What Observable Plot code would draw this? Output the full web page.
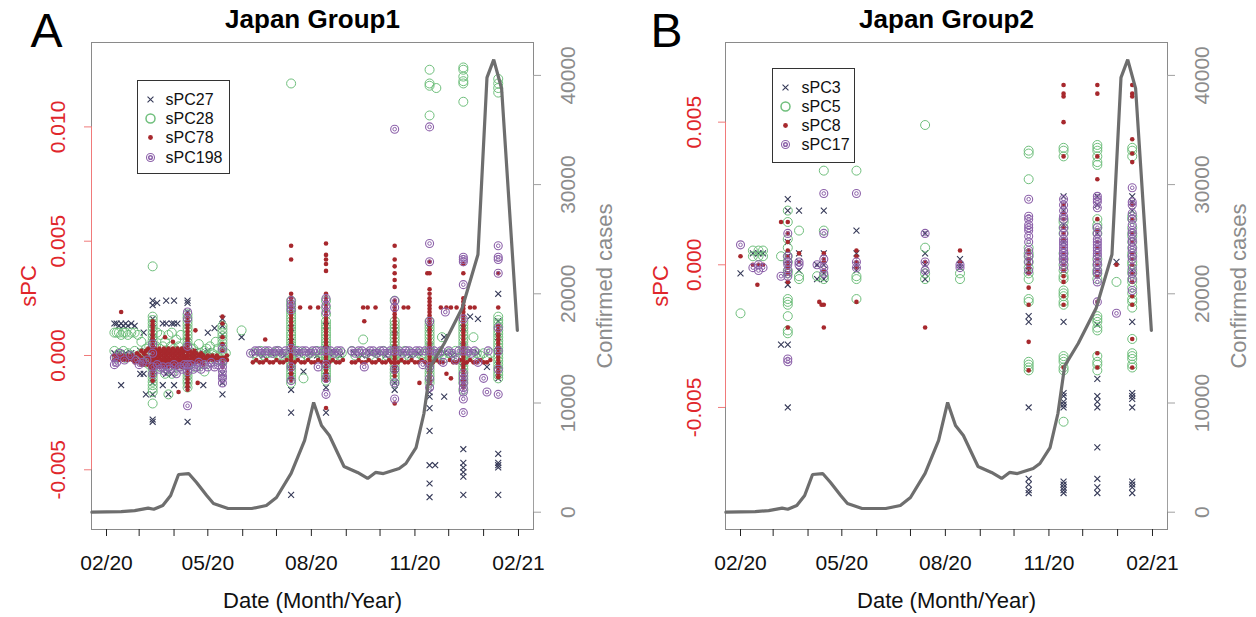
<!DOCTYPE html>
<html><head><meta charset="utf-8">
<script src="https://cdn.jsdelivr.net/npm/d3@7"></script>
<script src="https://cdn.jsdelivr.net/npm/@observablehq/plot@0.6"></script>
<style>
body{margin:0;background:#fff;font-family:"Liberation Sans",Arial,sans-serif}
#wrap{display:flex;width:1256px;height:617px;overflow:hidden}
</style></head><body><div id="wrap"></div>
<script>
// ---- Confirmed cases (weekly) ----
const caseDates = ["2020-01-19","2020-02-14","2020-02-26","2020-03-09","2020-03-14","2020-03-22","2020-03-29","2020-04-05","2020-04-14","2020-04-21","2020-04-30","2020-05-06","2020-05-19","2020-06-09","2020-06-22","2020-07-01","2020-07-14","2020-07-26","2020-08-03","2020-08-10","2020-08-17","2020-08-30","2020-09-11","2020-09-20","2020-09-27","2020-10-04","2020-10-18","2020-10-24","2020-11-02","2020-11-09","2020-11-15","2020-11-27","2020-12-13","2020-12-27","2021-01-04","2021-01-10","2021-01-17","2021-01-31"];
const caseCounts = [0,60,150,370,270,610,1530,3450,3540,2720,1530,800,340,340,610,1350,3550,6570,10050,7940,7020,4180,3640,3090,3640,3540,4000,4460,5920,9040,13400,15450,18700,23600,39800,41450,38800,16640];
const caseTicks = [0,10000,20000,30000,40000];

// ---- x axis ----
const monthTicks = ["2020-02-01","2020-03-01","2020-04-01","2020-05-01","2020-06-01","2020-07-01","2020-08-01","2020-09-01","2020-10-01","2020-11-01","2020-12-01","2021-01-01","2021-02-01"];
const labeledMonths = ["2020-02-01","2020-05-01","2020-08-01","2020-11-01","2021-02-01"];
const monthLabels = ["02/20","05/20","08/20","11/20","02/21"];

// ---- Group 1 (panel A): [date, values...] ----
const sPC27 = [["2020-02-08",0.0014,0.0001],["2020-02-10",0.0014,-0.0001],["2020-02-12",0.0013,0.0001],["2020-02-14",0.0014,-0.0013],["2020-02-16",0.0013,0.0],["2020-02-18",0.0014,0.0001],["2020-02-20",0.0013,-0.0001],["2020-02-23",0.0014,0.0001],["2020-02-26",0.0013,0.0],["2020-03-02",-0.0008,0.0002],["2020-03-05",0.001,-0.0008],["2020-03-07",-0.0017,-0.0001],
["2020-03-13",0.0024,0.0022,0.0016,0.0012,0.0008,0.0004,0.0001,-0.0004,-0.0006,-0.0009,-0.0012,-0.0017,-0.0028,-0.0029],
["2020-03-17",0.0023,0.0001],["2020-03-22",0.0014,-0.0013],["2020-03-25",0.0024,0.0014,-0.0008],["2020-03-27",-0.0017,0.0002],["2020-03-30",0.0014,-0.0008],["2020-04-01",0.0024,0.0014,-0.0013],["2020-04-04",0.0014,-0.0001],["2020-04-08",0.0002,-0.0002],
["2020-04-13",0.0024,0.0023,0.0019,0.0014,0.0006,0.0001,-0.0005,-0.0011,-0.0013,-0.0029],
["2020-04-20",0.0002,-0.0001],["2020-04-27",-0.0013,0.0001],["2020-05-01",0.001,0.0002],["2020-05-07",0.0012,-0.0001],
["2020-05-14",0.0016,0.0013,0.0009,0.0004,-0.0003,-0.0008,-0.0012,-0.0017],
["2020-05-31",0.0008],["2020-06-12",0.0001],["2020-06-19",0.0],["2020-06-26",0.0001],["2020-07-03",0.0001],["2020-07-08",0.0],
["2020-07-14",0.0012,0.0006,0.0001,-0.0004,-0.0009,-0.0015,-0.0025,-0.0061],
["2020-07-20",0.0001],["2020-07-25",-0.0007],["2020-07-31",0.0001],["2020-08-06",0.0],
["2020-08-14",0.0013,0.0005,-0.0004,-0.0009,-0.0014,-0.0025],
["2020-08-21",0.0001],["2020-08-27",0.0],["2020-09-08",0.0001],["2020-09-15",0.0],["2020-09-22",0.0001],["2020-09-29",0.0001],["2020-10-06",0.0],
["2020-10-14",0.0011,0.0003,-0.0006,-0.0012,-0.0015],
["2020-10-21",0.0001],["2020-10-28",0.0],["2020-11-04",0.0001],
["2020-11-14",0.0012,0.0004,-0.0006,-0.0012,-0.0016,-0.0018,-0.0023,-0.0033,-0.0048,-0.0056,-0.0062],
["2020-11-19",-0.0048],["2020-11-27",0.0008,-0.0018,0.0001],["2020-12-04",0.0],
["2020-12-14",0.0012,0.0004,-0.0005,-0.0012,-0.0041,-0.0047,-0.0049,-0.0051,-0.0053,-0.0061],
["2020-12-20",0.0017],["2020-12-27",0.0016,0.0001],["2021-01-04",-0.0005],
["2021-01-14",0.0027,0.0015,0.0008,0.0002,-0.0004,-0.001,-0.0043,-0.0047,-0.0048,-0.0049,-0.0061]];

const sPC28 = [["2020-02-08",0.001,0.0002],["2020-02-10",0.001,-0.0001],["2020-02-12",0.001,0.0001],["2020-02-14",0.0009,0.0],["2020-02-16",0.001,0.0002],["2020-02-18",0.001,-0.0001],["2020-02-20",0.0009,0.0001],["2020-02-23",0.001,0.0],["2020-02-26",0.001,0.0002],["2020-02-29",0.0009,-0.0001],["2020-03-03",0.0006,0.0001,-0.0002],["2020-03-07",0.0003,-0.0003],["2020-03-10",0.0004,0.0,-0.0004],
["2020-03-13",0.0039,0.0017,0.00155,0.0014,0.00125,0.0011,0.00095,0.0008,0.00065,0.0005,0.00035,0.0002,0.00005,-0.0001,-0.00025,-0.0004,-0.00055,-0.0007,-0.00085,-0.001,-0.00115,-0.0013,-0.00145,-0.0016,-0.0021],
["2020-03-16",0.0004,0.0,-0.0004],["2020-03-17",0.001],["2020-03-19",0.0003,-0.0002],["2020-03-20",0.0009,-0.0005],["2020-03-22",0.0004,0.0],["2020-03-24",0.0006,-0.0008,-0.0003],["2020-03-26",0.0002,-0.0004],["2020-03-27",0.0009,-0.0017],["2020-03-29",0.0004,0.0],["2020-03-30",0.001,-0.0008],["2020-04-01",0.0003,-0.0004],["2020-04-03",0.0007,0.0002,-0.0002],["2020-04-05",0.0004,-0.0005],["2020-04-07",0.0009,-0.0003],["2020-04-09",0.0002,0.0,-0.0004],
["2020-04-13",0.0018,0.00165,0.0015,0.00135,0.0012,0.00105,0.0009,0.00075,0.0006,0.00045,0.0003,0.00015,0.0,-0.00015,-0.0003,-0.00045,-0.0006,-0.00075,-0.0009,-0.00105,-0.0012,-0.0014],
["2020-04-16",0.0003,-0.0003],["2020-04-18",0.0003,-0.0002],["2020-04-20",0.0,-0.0005],["2020-04-23",0.0005,-0.0004],["2020-04-25",0.0001,-0.0002],["2020-04-28",0.0002,-0.0007],["2020-04-30",0.0003,0.0],["2020-05-03",0.0004,-0.0003],["2020-05-05",0.0001,-0.0001],["2020-05-08",0.0006,0.0],["2020-05-10",0.0003,-0.0002],
["2020-05-14",0.0013,0.00115,0.001,0.00085,0.0007,0.00055,0.0004,0.00025,0.0001,-0.00005,-0.0002,-0.0003],
["2020-05-17",0.0001],["2020-05-31",0.0011],["2020-06-11",0.0001],["2020-06-14",-0.0001],["2020-06-17",0.0002],["2020-06-20",0.0],["2020-06-23",0.0001],["2020-06-26",-0.0001],["2020-06-29",0.0001],["2020-07-02",0.0002],["2020-07-05",0.0],["2020-07-08",-0.0001],["2020-07-11",0.0001],
["2020-07-14",0.0119,0.0024,0.00225,0.0021,0.00195,0.0018,0.00165,0.0015,0.00135,0.0012,0.00105,0.0009,0.00075,0.0006,0.00045,0.0003,0.00015,0.0,-0.00015,-0.0003,-0.00045,-0.0006,-0.00075,-0.0009,-0.00105,-0.0012],
["2020-07-17",0.0001],["2020-07-20",0.0002],["2020-07-22",-0.0001],["2020-07-25",-0.001,0.0001],["2020-07-28",0.0],["2020-07-31",0.0001],["2020-08-03",-0.0001],["2020-08-06",0.0002],["2020-08-09",0.0],["2020-08-11",0.0001],
["2020-08-14",0.0024,0.0021,0.0018,0.0015,0.00135,0.0012,0.00105,0.0009,0.00075,0.0006,0.00045,0.0003,0.00015,0.0,-0.00015,-0.0003,-0.00045,-0.0006,-0.00075,-0.0009,-0.0011],
["2020-08-17",0.0001],["2020-08-20",-0.0001],["2020-08-23",0.0001],["2020-08-26",0.0],["2020-08-28",0.0001],["2020-09-06",0.0002],["2020-09-09",0.0],["2020-09-12",0.0001],["2020-09-16",0.0007,-0.0001],["2020-09-19",0.0001],["2020-09-22",0.0],["2020-09-25",-0.0001],["2020-09-28",0.0001],["2020-10-01",0.0],["2020-10-04",0.0002],["2020-10-07",0.0],["2020-10-10",0.0001],
["2020-10-14",0.0024,0.0015,0.00135,0.0012,0.00105,0.0009,0.00075,0.0006,0.00045,0.0003,0.00015,0.0,-0.00015,-0.0003,-0.00045,-0.0006,-0.00075,-0.0009,-0.00105,-0.0012],
["2020-10-17",0.0001],["2020-10-20",-0.0001],["2020-10-23",0.0002],["2020-10-26",0.0],["2020-10-29",0.0001],["2020-11-01",-0.0001],["2020-11-04",0.0001],["2020-11-07",0.0],["2020-11-10",0.0001],
["2020-11-14",0.0125,0.0119,0.0118,0.0105,0.0015,0.00135,0.0012,0.00105,0.0009,0.00075,0.0006,0.00045,0.0003,0.00015,0.0,-0.00015,-0.0003,-0.00045,-0.0006,-0.00075,-0.0009,-0.00105,-0.0012],
["2020-11-17",0.0001],["2020-11-20",0.0117,-0.0001],["2020-11-23",0.0001],["2020-11-25",0.0008,0.0],["2020-11-28",-0.0001],["2020-12-01",0.0001],["2020-12-04",0.0],["2020-12-07",0.0002],["2020-12-10",-0.0001],
["2020-12-14",0.0126,0.0125,0.0122,0.012,0.0119,0.0111,0.0015,0.00135,0.0012,0.00105,0.0009,0.00075,0.0006,0.00045,0.0003,0.00015,0.0,-0.00015,-0.0003,-0.00045,-0.0006,-0.00075,-0.0009,-0.00105,-0.0012,-0.0015],
["2020-12-17",0.0001],["2020-12-20",0.0],["2020-12-23",0.0008,-0.0001],["2020-12-26",0.0001],["2020-12-29",0.0],["2021-01-01",0.0001],["2021-01-04",-0.0001],["2021-01-07",0.0001],
["2021-01-14",0.0121,0.0119,0.0117,0.0115,0.0017,0.00155,0.0014,0.00125,0.0011,0.00095,0.0008,0.00065,0.0005,0.00035,0.0002,0.00005,-0.0001,-0.00025,-0.0004,-0.00055,-0.0007,-0.00085,-0.001]];

const sPC78 = [["2020-02-08",0.0,-0.0002],["2020-02-10",-0.0001],["2020-02-12",0.0,-0.0002],["2020-02-14",0.0019,-0.0001],["2020-02-16",0.0,-0.0002],["2020-02-18",-0.0001],["2020-02-20",0.0,-0.0002],["2020-02-22",-0.0001],["2020-02-24",0.0,-0.0002],["2020-02-26",-0.0001,-0.0003],["2020-02-28",0.0001,-0.0002],["2020-03-01",0.0,-0.0003],["2020-03-03",0.0002,-0.0001,-0.0004],["2020-03-05",0.0001,-0.0002,-0.0004],["2020-03-07",0.0002,0.0,-0.0003],["2020-03-09",0.0003,-0.0001,-0.0004],["2020-03-11",0.0002,-0.0002,-0.0005],
["2020-03-13",0.0015,0.00135,0.0012,0.00105,0.0009,0.00075,0.0006,0.00045,0.0003,0.00015,0.0,-0.00015,-0.0003,-0.00045,-0.0006,-0.00075,-0.0009,-0.0011],
["2020-03-15",0.0003,0.0001,-0.0001,-0.0003,-0.0005],["2020-03-17",0.0002,0.0,-0.0002,-0.0004],["2020-03-19",0.0003,0.0001,-0.0001,-0.0003,-0.0005],["2020-03-21",0.0002,0.0,-0.0002,-0.0004],["2020-03-23",0.0003,0.0001,-0.0001,-0.0003,-0.0005],["2020-03-24",0.0008],["2020-03-25",0.0002,0.0,-0.0002,-0.0004],["2020-03-27",0.0003,0.0001,-0.0001,-0.0003,-0.0005],["2020-03-29",0.0002,0.0,-0.0002,-0.0004],["2020-03-31",0.0006,0.0003,0.0001,-0.0001,-0.0003,-0.0005],["2020-04-02",0.0002,0.0,-0.0002,-0.0004],["2020-04-04",0.0003,0.0001,-0.0001,-0.0003,-0.0005],["2020-04-05",-0.0016],["2020-04-06",0.0002,0.0,-0.0002,-0.0004],["2020-04-08",0.0003,0.0001,-0.0001,-0.0003,-0.0005],["2020-04-10",0.0002,0.0,-0.0002,-0.0004],["2020-04-11",0.0003,-0.0001],
["2020-04-13",0.0018,0.00165,0.0015,0.00135,0.0012,0.00105,0.0009,0.00075,0.0006,0.00045,0.0003,0.00015,0.0,-0.00015,-0.0003,-0.00045,-0.0006,-0.00075,-0.0009,-0.00105,-0.0012,-0.00135,-0.0015],
["2020-04-15",0.0002,0.0,-0.0002,-0.0004],["2020-04-17",0.0001,-0.0001,-0.0003],["2020-04-19",0.0002,0.0,-0.0002],["2020-04-20",0.0011],["2020-04-21",0.0001,-0.0001,-0.0003],["2020-04-22",-0.0012],["2020-04-23",0.0,-0.0002],["2020-04-25",0.0001,-0.0001,-0.0003],["2020-04-27",0.0,-0.0002,-0.0004],["2020-04-29",-0.0001],["2020-05-01",0.0,-0.0002],["2020-05-03",-0.0001],["2020-05-05",0.0,-0.0002],["2020-05-07",-0.0001],["2020-05-09",0.0,-0.0002],["2020-05-11",-0.0001],
["2020-05-14",0.0017,0.0014,0.0008,0.0005,0.0002,-0.0001,-0.0003,-0.0005],
["2020-05-16",-0.0001],["2020-05-18",0.0,-0.0002],
["2020-06-10",-0.0003],["2020-06-13",-0.0002],["2020-06-16",-0.0003],["2020-06-19",-0.0003],["2020-06-21",0.0007],["2020-06-22",-0.0002],["2020-06-25",-0.0003],["2020-06-28",-0.0003],["2020-07-01",-0.0002],["2020-07-04",-0.0003],["2020-07-07",-0.0003],["2020-07-10",-0.0002],
["2020-07-14",0.0048,0.0042,0.0027,0.0025,0.00235,0.0022,0.00205,0.0019,0.00175,0.0016,0.00145,0.0013,0.00115,0.001,0.00085,0.0007,0.00055,0.0004,0.00025,0.0001,-0.00005,-0.0002,-0.00035,-0.0005,-0.00065,-0.0008,-0.00095,-0.0011],
["2020-07-17",-0.0003],["2020-07-20",-0.0002],["2020-07-22",0.0021],["2020-07-23",-0.0003],["2020-07-26",-0.0003],["2020-07-29",-0.0002],["2020-07-31",0.0021],["2020-08-01",-0.0003],["2020-08-04",-0.0003],["2020-08-07",0.0021,-0.0002],["2020-08-10",-0.0003],
["2020-08-14",0.0049,0.0044,0.0042,0.004,0.0037,0.0027,0.0025,0.00235,0.0022,0.00205,0.0019,0.00175,0.0016,0.00145,0.0013,0.00115,0.001,0.00085,0.0007,0.00055,0.0004,0.00025,0.0001,-0.00005,-0.0002,-0.00035,-0.0005,-0.00065,-0.0008,-0.00095,-0.0011,-0.0023],
["2020-08-17",-0.0003],["2020-08-20",-0.0002],["2020-08-23",-0.0003],["2020-08-26",-0.0003],["2020-08-29",-0.0002],["2020-09-06",-0.0003],["2020-09-09",-0.0003],["2020-09-12",-0.0002],["2020-09-15",-0.0003],["2020-09-16",0.0021],["2020-09-17",0.0015],["2020-09-18",-0.0003],["2020-09-20",0.0021],["2020-09-21",-0.0002],["2020-09-24",-0.0003],["2020-09-27",0.0021,-0.0003],["2020-09-30",-0.0002],["2020-10-03",-0.0003],["2020-10-06",-0.0003],["2020-10-09",-0.0002],["2020-10-11",-0.0003],
["2020-10-14",0.0048,0.0042,0.0039,0.0036,0.0033,0.003,0.0024,0.00225,0.0021,0.00195,0.0018,0.00165,0.0015,0.00135,0.0012,0.00105,0.0009,0.00075,0.0006,0.00045,0.0003,0.00015,0.0,-0.00015,-0.0003,-0.00045,-0.0006,-0.00075,-0.0009,-0.0021],
["2020-10-17",-0.0003],["2020-10-20",-0.0002],["2020-10-22",0.0021],["2020-10-23",-0.0003],["2020-10-26",0.0021,-0.0003],["2020-10-29",-0.0002],["2020-11-01",-0.0003],["2020-11-04",-0.0003],["2020-11-05",-0.0012],["2020-11-07",-0.0002],["2020-11-10",-0.0003],["2020-11-12",0.0036],
["2020-11-14",0.0041,0.0036,0.0029,0.0027,0.0025,0.00235,0.0022,0.00205,0.0019,0.00175,0.0016,0.00145,0.0013,0.00115,0.001,0.00085,0.0007,0.00055,0.0004,0.00025,0.0001,-0.00005,-0.0002,-0.00035,-0.0005,-0.00065,-0.0008,-0.00095,-0.0011,-0.0012],
["2020-11-17",-0.0003],["2020-11-20",-0.0002],["2020-11-23",-0.0003],["2020-11-24",0.0021],["2020-11-26",-0.0003],["2020-11-29",0.0021,-0.0008],["2020-12-02",-0.0002],["2020-12-03",0.0021,-0.001],["2020-12-05",-0.0003],["2020-12-08",0.0021,-0.0003],["2020-12-11",-0.0002],
["2020-12-14",0.004,0.0036,0.0025,0.00235,0.0022,0.00205,0.0019,0.00175,0.0016,0.00145,0.0013,0.00115,0.001,0.00085,0.0007,0.00055,0.0004,0.00025,0.0001,-0.00005,-0.0002,-0.00035,-0.0005,-0.00065,-0.0008,-0.00095,-0.0011,-0.00125,-0.0014],
["2020-12-17",-0.0003],["2020-12-20",0.0021,-0.0002],["2020-12-23",-0.0003],["2020-12-24",0.0021],["2020-12-26",-0.0003],["2020-12-29",-0.0002],["2021-01-01",-0.0003],["2021-01-04",-0.0003],["2021-01-07",-0.0002],
["2021-01-14",0.0036,0.0021,0.0013,0.00115,0.001,0.00085,0.0007,0.00055,0.0004,0.00025,0.0001,-0.00005,-0.0002,-0.00035,-0.0005,-0.00065,-0.0008,-0.00095]];

const sPC198 = [["2020-02-08",-0.0001,-0.0004],["2020-02-10",-0.0003],["2020-02-13",0.0001],["2020-02-17",-0.0002],["2020-02-22",0.0],["2020-02-27",-0.0002],["2020-03-01",-0.0004],["2020-03-04",-0.0003],["2020-03-08",-0.0002],
["2020-03-13",0.0005,0.0001,-0.0005,-0.0008],
["2020-03-17",-0.0004],["2020-03-19",-0.0006],["2020-03-22",-0.0005],["2020-03-24",-0.0007],["2020-03-27",-0.0005],["2020-03-29",-0.0006],["2020-04-01",-0.0004],["2020-04-03",-0.0008],["2020-04-06",-0.0005],["2020-04-08",-0.0006],["2020-04-10",-0.0004],
["2020-04-13",0.0019,0.0016,0.0004,-0.0004,-0.0007,-0.0022],
["2020-04-16",-0.0004],["2020-04-18",-0.0006],["2020-04-21",-0.0005],["2020-04-23",-0.0003],["2020-04-25",-0.0006],["2020-04-28",-0.0004],["2020-05-01",-0.0005],["2020-05-04",-0.0003],["2020-05-07",-0.0005],["2020-05-10",-0.0004],
["2020-05-14",0.0003,-0.0003,-0.0005,-0.0007,-0.0009,-0.001,-0.0012],
["2020-06-08",0.0001],["2020-06-12",0.0002],["2020-06-15",0.0002],["2020-06-18",0.0001],["2020-06-21",0.0002],["2020-06-24",0.0002],["2020-06-27",0.0001],["2020-06-30",0.0002],["2020-07-03",0.0002],["2020-07-06",0.0001],["2020-07-09",0.0002],
["2020-07-14",0.0024,0.0022,0.002,0.0003,-0.0005,-0.0011],
["2020-07-18",0.0002],["2020-07-21",0.0001],["2020-07-24",0.0002],["2020-07-27",0.0002],["2020-07-30",0.0001],["2020-08-02",0.0002],["2020-08-05",0.0002],["2020-08-07",-0.0005],["2020-08-10",0.0002],
["2020-08-14",0.0025,0.0022,0.0019,0.0002,-0.0004,-0.001,-0.0017],
["2020-08-18",0.0002],["2020-08-21",0.0001],["2020-08-24",0.0002],["2020-08-27",0.0002],["2020-09-06",0.0002],["2020-09-09",0.0001],["2020-09-12",0.0002],["2020-09-15",0.0002],["2020-09-17",-0.0005],["2020-09-19",0.0001],["2020-09-22",0.0002],["2020-09-25",0.0002],["2020-09-28",0.0001],["2020-10-01",0.0002],["2020-10-04",0.0002],["2020-10-07",0.0001],["2020-10-10",0.0002],
["2020-10-14",0.0099,0.0024,0.0021,0.0002,-0.0006,-0.0012,-0.0019],
["2020-10-18",0.0002],["2020-10-21",0.0001],["2020-10-24",0.0002],["2020-10-27",0.0002],["2020-10-30",0.0001],["2020-11-02",0.0002],["2020-11-05",0.0002],["2020-11-08",-0.0004],["2020-11-10",0.0002],
["2020-11-14",0.01,0.0049,0.0041,0.0015,0.0002,-0.0005,-0.001,-0.0014],
["2020-11-18",0.0002],["2020-11-21",0.0001],["2020-11-24",0.0002],["2020-11-26",-0.0003],["2020-11-28",0.0019],["2020-12-01",0.0002],["2020-12-04",0.0001],["2020-12-07",-0.0002],["2020-12-10",0.0002],
["2020-12-14",0.0043,0.0042,0.0041,0.0031,0.0016,0.0002,-0.0008,-0.001,-0.0012,-0.0014,-0.0016,-0.0019,-0.0025],
["2020-12-18",0.0002],["2020-12-21",0.0001],["2020-12-24",0.0002],["2020-12-27",-0.0003],["2021-01-01",-0.001],["2021-01-04",-0.0016],["2021-01-05",0.0002],
["2021-01-14",0.0048,0.0043,0.0042,0.0036,0.0012,0.0002,-0.0006,-0.0017]];

// ---- Group 2 (panel B) ----
const sPC3 = [["2020-02-01",-0.0003],["2020-02-12",0.0004],["2020-02-17",0.0004],["2020-02-21",0.0004],["2020-03-08",-0.0028],
["2020-03-14",0.0023,0.0019,0.0008,0.0003,0.0,-0.0003,-0.0007,-0.0028,-0.005],
["2020-03-24",0.0019,0.0004,0.0001,-0.0002],["2020-04-09",0.0,-0.0005],
["2020-04-15",0.0019,0.0004,0.0,-0.0003,-0.0005],
["2020-05-14",0.0012,0.0004,0.0,-0.0002],
["2020-07-14",0.0011,0.0004,0.0,-0.0003,-0.0005],
["2020-08-14",0.0002,0.0,-0.0001],
["2020-10-14",0.0001,-0.0002,-0.0018,-0.002,-0.005,-0.0075,-0.0077,-0.0079,-0.008],
["2020-11-14",0.0024,0.0021,0.0019,0.0014,0.0008,0.0002,-0.0002,-0.002,-0.0045,-0.0046,-0.0048,-0.0049,-0.005,-0.0076,-0.0077,-0.0078,-0.0079,-0.008],
["2020-12-14",0.0024,0.0021,0.0011,0.0004,-0.0002,-0.0021,-0.004,-0.0046,-0.0048,-0.005,-0.0064,-0.0075,-0.0078,-0.008],
["2020-12-31",0.0001],
["2021-01-14",0.0024,0.0022,0.0019,0.0008,-0.0002,-0.002,-0.0045,-0.0046,-0.0047,-0.005,-0.0076,-0.0077,-0.0078,-0.008]];

const sPC5 = [["2020-02-01",-0.0017],["2020-02-12",0.0005,0.0003],["2020-02-17",0.0005,0.0003],["2020-02-21",0.0005,0.0003],["2020-03-08",0.0003],
["2020-03-14",0.0019,0.0015,0.0009,0.0006,0.0003,0.0001,-0.0002,-0.0003,-0.0012,-0.0013,-0.0014,-0.0018,-0.0023,-0.0024],
["2020-03-24",0.0012,-0.0004,-0.0005],["2020-04-09",-0.0004],
["2020-04-15",0.0033,0.0012,-0.0004,-0.0005],
["2020-05-14",0.0033,-0.0004,-0.0005,-0.0012],
["2020-07-14",0.0049,0.0006,-0.0003,-0.0005],
["2020-08-14",-0.0003,-0.0005],
["2020-10-14",0.004,0.0039,0.003,0.0006,0.0004,0.0003,0.0001,-0.0001,-0.0003,-0.0005,-0.0012,-0.0013,-0.0034,-0.0035,-0.0036,-0.0037],
["2020-11-14",0.0041,0.004,0.0038,0.0016,0.0015,0.0013,0.0011,0.0004,0.0002,0.0,-0.0002,-0.0004,-0.0005,-0.0009,-0.001,-0.0011,-0.0013,-0.0014,-0.0032,-0.0033,-0.0034,-0.0036,-0.0037,-0.0055],
["2020-12-14",0.0042,0.0041,0.004,0.0038,0.0036,0.0035,0.0016,0.0014,0.0013,0.0011,0.0002,0.0,-0.0002,-0.0003,-0.0005,-0.0018,-0.0019,-0.002,-0.0022,-0.0023,-0.0032,-0.0034,-0.0035,-0.0037],
["2020-12-31",-0.0006],
["2021-01-14",0.0041,0.004,0.0038,0.0017,0.0016,0.0013,0.0011,0.001,0.0008,0.0006,0.0004,0.0003,0.0001,0.0,-0.0002,-0.0003,-0.0005,-0.0006,-0.0008,-0.001,-0.0012,-0.0013,-0.0015,-0.0026,-0.0031,-0.0032,-0.0033,-0.0035,-0.0036]];

const sPC8 = [["2020-02-01",0.0003],["2020-02-12",0.0],["2020-02-16",-0.0007],["2020-02-17",0.0],["2020-02-21",0.0],["2020-03-08",0.0015],
["2020-03-14",0.0015,0.0011,0.0008,0.0005,0.0003,0.0001,0.0,-0.0001,-0.0003,-0.0006,-0.0022],
["2020-03-24",0.0004,0.0001],["2020-04-11",-0.0013],["2020-04-13",-0.0014],
["2020-04-15",0.0004,0.0002,0.0001,-0.0002,-0.0014,-0.0022],
["2020-05-14",0.0005,0.0003,0.0001,-0.0001,-0.0013],
["2020-07-14",0.0001,-0.0022],
["2020-08-14",0.0005,0.0001],
["2020-10-14",0.0005,0.0004,0.0002,0.0,-0.0001,-0.0003,-0.0008,-0.0014,-0.0027,-0.0037],
["2020-11-14",0.0063,0.006,0.0059,0.005,0.0038,0.0021,0.0018,0.0016,0.0013,0.0011,0.0009,0.0006,0.0004,0.0002,0.0,-0.0002,-0.0004,-0.0006,-0.0011,-0.0014,-0.0036],
["2020-12-14",0.0063,0.006,0.0038,0.003,0.0016,0.0012,0.0008,0.0006,0.0004,0.0002,0.0,-0.0002,-0.0004,-0.0013,-0.0031,-0.0036],
["2020-12-31",0.0],
["2021-01-14",0.0063,0.006,0.0059,0.0044,0.0039,0.0036,0.0021,0.0016,0.0011,0.0008,0.0004,0.0002,0.0,-0.0003,-0.0006,-0.0011,-0.0014,-0.0026,-0.0036]];

const sPC17 = [["2020-02-01",0.0007],["2020-02-12",-0.0001],["2020-02-17",-0.0002,0.0],["2020-02-21",-0.0001],["2020-03-08",-0.0004],
["2020-03-14",0.0011,0.0003,0.0001,0.0,-0.0002,-0.0004,-0.0033,-0.0034],
["2020-03-24",0.0,0.0001],["2020-04-09",0.0],
["2020-04-15",0.0025,0.0011,0.0002,-0.0001,-0.0003],
["2020-05-14",0.0025,0.0001,-0.0001],
["2020-07-14",0.0011,0.0001,-0.0002],
["2020-08-14",0.0,-0.0001],
["2020-10-14",0.0023,0.0017,0.0016,0.0014,0.0013,0.0012,0.001,0.0008,0.0005,0.0003,0.0001,-0.0002],
["2020-11-14",0.0023,0.0021,0.0019,0.0017,0.0016,0.0013,0.0011,0.0009,0.0008,0.0007,0.0006,0.0005,0.0004,0.0003,0.0002,0.0001,-0.0001],
["2020-12-14",0.0024,0.0023,0.0022,0.002,0.0013,0.0011,0.0009,0.0008,0.0007,0.0006,0.0005,0.0004,0.0003,0.0001,0.0,-0.0002,-0.0003,-0.0006,-0.0013],
["2020-12-31",-0.0017],
["2021-01-14",0.0027,0.0022,0.0021,0.0018,0.0016,0.0014,0.0012,0.0011,0.0009,0.0008,0.0006,0.0005,0.0003,0.0002,-0.0001,-0.0003,-0.0005,-0.0009]];

const ticksA = [-0.005,0,0.005,0.010], labelsA = ["-0.005","0.000","0.005","0.010"];
const ticksB = [-0.005,0,0.005], labelsB = ["-0.005","0.000","0.005"];

// ---- styles ----
const RED = "#e0262b", GRAY = "#8c8c8c";
const COLORS = {x:"#363a58", green:"#6fbf7c", red:"#a7282d", purple:"#8d62aa"};
const parse = s => new Date(s.length > 10 ? s : s + "T00:00:00Z");
const xDomain = [parse("2020-01-18T16:00:00Z"), parse("2021-02-14T08:00:00Z")];
const caseDomain = [-1584, 43013];

function panel(cfg) {
  const [ylo, yhi] = cfg.yDomain;
  const cy = c => ylo + (c - caseDomain[0]) * (yhi - ylo) / (caseDomain[1] - caseDomain[0]);
  const pts = s => s.flatMap(([d, ...vs]) => vs.map(v => ({date: parse(d), v})));
  const cases = caseDates.map((d, i) => ({date: parse(d), y: cy(caseCounts[i])}));
  const [s1, s2, s3, s4] = cfg.series;
  const L = cfg.legend;
  const legendMarks = [
    Plot.frame({insetLeft: L.box[0], insetTop: L.box[1], insetRight: L.box[2], insetBottom: L.box[3], stroke: "#333", fill: "white"}),
    Plot.dot([0], {frameAnchor: "top-left", dx: L.sx, dy: L.ys[0], symbol: "times", r: 2.8, stroke: COLORS.x, strokeWidth: 1.1}),
    Plot.dot([0], {frameAnchor: "top-left", dx: L.sx, dy: L.ys[1], r: 4.5, stroke: COLORS.green, fill: "none"}),
    Plot.dot([0], {frameAnchor: "top-left", dx: L.sx, dy: L.ys[2], r: 2.4, fill: COLORS.red, stroke: "none"}),
    Plot.dot([0], {frameAnchor: "top-left", dx: L.sx, dy: L.ys[3], r: 4, stroke: COLORS.purple, fill: "none", strokeWidth: 1.1}),
    Plot.dot([0], {frameAnchor: "top-left", dx: L.sx, dy: L.ys[3], r: 1.8, stroke: COLORS.purple, fill: "none"}),
    ...cfg.names.map((n, i) => Plot.text([n], {frameAnchor: "top-left", dx: L.tx, dy: L.ys[i], text: d => d, textAnchor: "start", lineAnchor: "middle", fontSize: 16, fill: "#111"}))
  ];
  return Plot.plot({
    width: 628, height: 617,
    marginLeft: cfg.ml, marginRight: cfg.mr, marginTop: 42, marginBottom: 88,
    style: {fontFamily: "'Liberation Sans', Arial, sans-serif", fontSize: "20px", background: "white", overflow: "visible"},
    x: {type: "utc", domain: xDomain},
    y: {domain: [ylo, yhi]},
    marks: [
      Plot.frame({stroke: "#8a8a8a"}),
      Plot.dot(pts(s1), {x: "date", y: "v", symbol: "times", r: 2.8, stroke: COLORS.x, strokeWidth: 1.1}),
      Plot.dot(pts(s2), {x: "date", y: "v", r: 4.5, stroke: COLORS.green, fill: "none", strokeWidth: 1}),
      Plot.dot(pts(s3), {x: "date", y: "v", r: 2.3, fill: COLORS.red, stroke: "none"}),
      Plot.dot(pts(s4), {x: "date", y: "v", r: 4, stroke: COLORS.purple, fill: "none", strokeWidth: 1.1}),
      Plot.dot(pts(s4), {x: "date", y: "v", r: 1.8, stroke: COLORS.purple, fill: "none", strokeWidth: 1}),
      Plot.line(cases, {x: "date", y: "y", stroke: "#6e6e6e", strokeWidth: 3.2, strokeLinejoin: "miter"}),
      // left axis (sPC)
      Plot.ruleX([xDomain[0]], {y1: cfg.yTicks[0], y2: cfg.yTicks[cfg.yTicks.length - 1], stroke: "#f07a7a"}),
      Plot.axisY({anchor: "left", ticks: cfg.yTicks, tickSize: 7, stroke: "#f07a7a", tickFormat: () => ""}),
      Plot.text(cfg.yTicks, {frameAnchor: "left", y: d => d, text: (d, i) => cfg.yLabels[i], rotate: -90, dx: cfg.ylx, fill: RED, fontSize: 21, textAnchor: "middle", lineAnchor: "middle"}),
      Plot.text(["sPC"], {frameAnchor: "left", text: d => d, rotate: -90, dx: cfg.ytx, fill: RED, fontSize: 22, textAnchor: "middle", lineAnchor: "middle"}),
      // right axis (cases)
      Plot.ruleX([xDomain[1]], {y1: cy(0), y2: cy(40000), stroke: "#a0a0a0"}),
      Plot.axisY({anchor: "right", ticks: caseTicks.map(cy), tickSize: 7, stroke: "#a0a0a0", tickFormat: () => ""}),
      Plot.text(caseTicks, {frameAnchor: "right", y: d => cy(d), text: d => String(d), rotate: -90, dx: 35, fill: GRAY, fontSize: 21, textAnchor: "middle", lineAnchor: "middle"}),
      Plot.text(["Confirmed cases"], {frameAnchor: "right", text: d => d, rotate: -90, dx: 71, fill: GRAY, fontSize: 22, textAnchor: "middle", lineAnchor: "middle"}),
      // x axis
      Plot.axisX({ticks: monthTicks.map(parse), tickSize: 7, stroke: "#222", tickFormat: () => ""}),
      Plot.text(labeledMonths, {x: d => parse(d), frameAnchor: "bottom", dy: 34, text: (d, i) => monthLabels[i], fill: "#111", fontSize: 21, lineAnchor: "middle"}),
      Plot.text(["Date (Month/Year)"], {frameAnchor: "bottom", dy: 71, text: d => d, fill: "#111", fontSize: 22, lineAnchor: "middle"}),
      // titles
      Plot.text([cfg.title], {frameAnchor: "top", dy: -23, text: d => d, fontSize: 26, fontWeight: "bold", fill: "#000", lineAnchor: "middle"}),
      Plot.text([cfg.letter], {frameAnchor: "top-left", dx: cfg.letterDx, dy: -11, text: d => d, fontSize: 48, fill: "#000", textAnchor: "middle", lineAnchor: "middle"}),
      ...legendMarks
    ]
  });
}

const wrap = document.getElementById("wrap");
wrap.appendChild(panel({
  title: "Japan Group1", letter: "A", letterDx: -45,
  names: ["sPC27","sPC28","sPC78","sPC198"], series: [sPC27, sPC28, sPC78, sPC198],
  yDomain: [-0.007612, 0.013692], yTicks: ticksA, yLabels: labelsA,
  ml: 91, mr: 95, ylx: -33, ytx: -63,
  legend: {box: [46, 38, 304, 356], sx: 59, tx: 74, ys: [57, 76, 95, 115]}
}));
wrap.appendChild(panel({
  title: "Japan Group2", letter: "B", letterDx: -59,
  names: ["sPC3","sPC5","sPC8","sPC17"], series: [sPC3, sPC5, sPC8, sPC17],
  yDomain: [-0.009278, 0.007792], yTicks: ticksB, yLabels: labelsB,
  ml: 97, mr: 89, ylx: -31, ytx: -65,
  legend: {box: [47, 26, 313, 367], sx: 60, tx: 76, ys: [45, 64, 83, 102]}
}));
</script></body></html>
